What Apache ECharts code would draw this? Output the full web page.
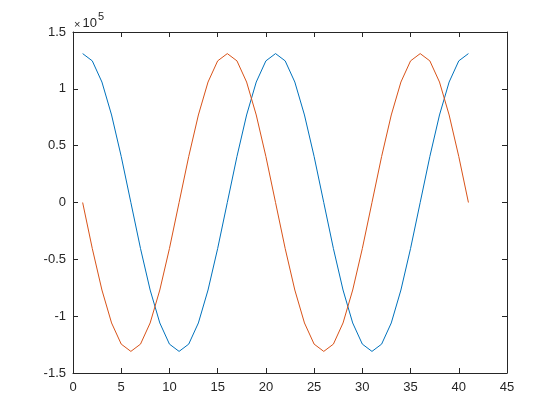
<!DOCTYPE html>
<html>
<head>
<meta charset="utf-8">
<script src="https://cdn.jsdelivr.net/npm/echarts@6/dist/echarts.min.js"></script>
<style>html,body{margin:0;padding:0;background:#fff}#c{width:560px;height:420px}</style>
</head>
<body>
<div id="c"></div>
<script>
var xValues = [1,2,3,4,5,6,7,8,9,10,11,12,13,14,15,16,17,18,19,20,21,22,23,24,25,26,27,28,29,30,31,32,33,34,35,36,37,38,39,40,41];
var blueValues = [131000,124589,105981,77000,40481,0,-40481,-77000,-105981,-124589,-131000,-124589,-105981,-77000,-40481,0,40481,77000,105981,124589,131000,124589,105981,77000,40481,0,-40481,-77000,-105981,-124589,-131000,-124589,-105981,-77000,-40481,0,40481,77000,105981,124589,131000];
var redValues = [0,-40481,-77000,-105981,-124589,-131000,-124589,-105981,-77000,-40481,0,40481,77000,105981,124589,131000,124589,105981,77000,40481,0,-40481,-77000,-105981,-124589,-131000,-124589,-105981,-77000,-40481,0,40481,77000,105981,124589,131000,124589,105981,77000,40481,0];
var yTickLabels = {'150000':'1.5','100000':'1','50000':'0.5','0':'0','-50000':'-0.5','-100000':'-1','-150000':'-1.5'};

function pairs(ys){ return xValues.map(function(x,i){ return [x, ys[i]]; }); }

var axisColor = '#262626';
var font = 'Liberation Sans, Arial, Helvetica, sans-serif';
var chart = echarts.init(document.getElementById('c'), null, {renderer:'canvas'});
var baseX = {
  type:'value', min:0, max:45, interval:5,
  axisLine:{show:true, onZero:false, lineStyle:{color:axisColor, width:1}},
  axisTick:{show:true, inside:true, length:5, lineStyle:{color:axisColor}},
  splitLine:{show:false}
};
var baseY = {
  type:'value', min:-150000, max:150000, interval:50000,
  axisLine:{show:true, onZero:false, lineStyle:{color:axisColor, width:1}},
  axisTick:{show:true, inside:true, length:5, lineStyle:{color:axisColor}},
  splitLine:{show:false}
};
chart.setOption({
  animation:false,
  backgroundColor:'#fff',
  grid:{left:73, right:53, top:32, bottom:47, containLabel:false},
  xAxis:[
    Object.assign({}, baseX, {position:'bottom', axisLabel:{show:true, color:axisColor, fontSize:13, fontFamily:font, margin:8}}),
    Object.assign({}, baseX, {position:'top', axisLabel:{show:false}})
  ],
  yAxis:[
    Object.assign({}, baseY, {position:'left', axisLabel:{show:true, color:axisColor, fontSize:13, fontFamily:font, margin:7,
      formatter:function(v){ return yTickLabels[String(v)] !== undefined ? yTickLabels[String(v)] : String(v/100000); }}}),
    Object.assign({}, baseY, {position:'right', axisLabel:{show:false}})
  ],
  graphic:[{
    type:'text', left:74, top:11,
    style:{
      text:'{x|×}{a|10}{b|5}',
      rich:{
        x:{fontSize:11, fontFamily:font, fill:axisColor, verticalAlign:'bottom', lineHeight:19, padding:[0,2,0,0]},
        a:{fontSize:13, fontFamily:font, fill:axisColor, verticalAlign:'bottom', lineHeight:19},
        b:{fontSize:11, fontFamily:font, fill:axisColor, verticalAlign:'top', padding:[0,0,6,1], lineHeight:19}
      }
    }
  }],
  series:[
    {type:'line', data:pairs(blueValues), xAxisIndex:0, yAxisIndex:0, showSymbol:false, symbol:'none',
      lineStyle:{color:'#0072BD', width:1}, itemStyle:{color:'#0072BD'}},
    {type:'line', data:pairs(redValues), xAxisIndex:0, yAxisIndex:0, showSymbol:false, symbol:'none',
      lineStyle:{color:'#D95319', width:1}, itemStyle:{color:'#D95319'}}
  ]
});
</script>
</body>
</html>
